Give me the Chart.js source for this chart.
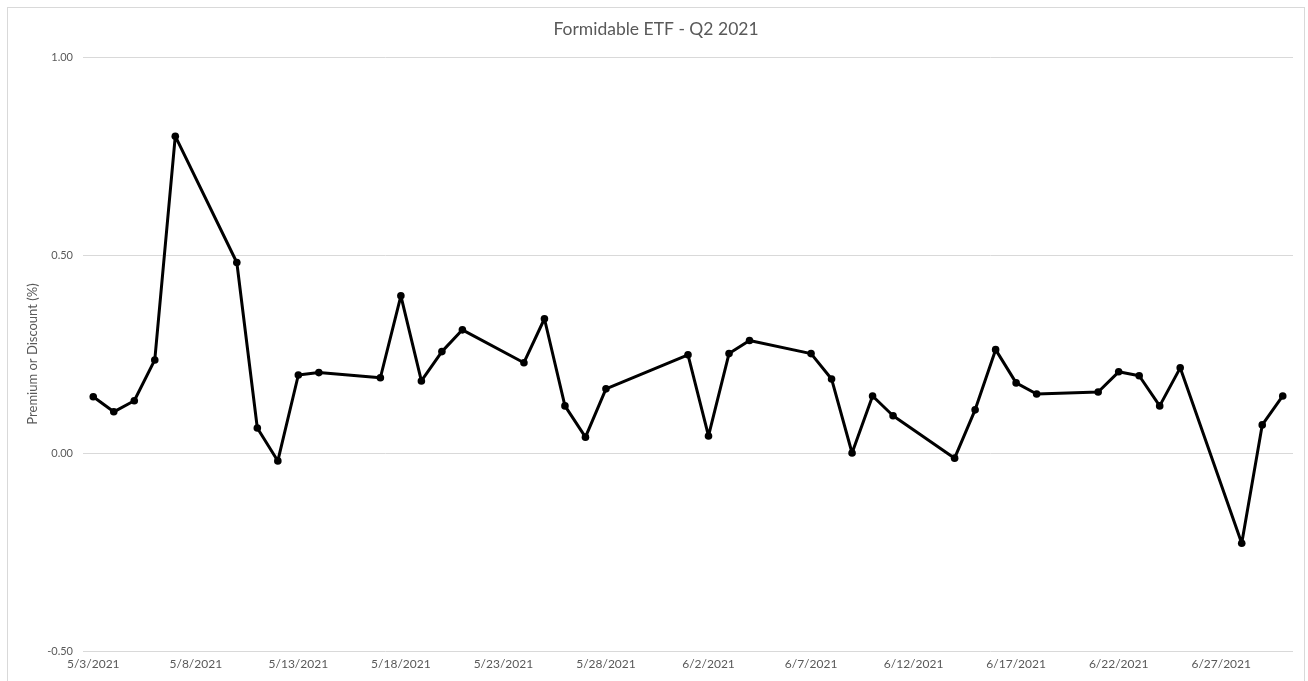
<!DOCTYPE html>
<html>
<head>
<meta charset="utf-8">
<script src="https://cdn.jsdelivr.net/npm/chart.js@4.4.1/dist/chart.umd.min.js"></script>
<style>
    html, body { margin: 0; padding: 0; background: #fff; overflow: hidden; }
    #frame { position: absolute; left: 7px; top: 7px; width: 1298px; height: 700px; border: 1px solid #d9d9d9; box-sizing: border-box; }
    #wrap { position: absolute; left: 0; top: 0; width: 1308px; height: 681px; }
</style>
</head>
<body>
<div id="frame"></div>
<div id="wrap"><canvas id="etfChart" width="1308" height="681"></canvas></div>
<script>
// trading days of Q2 2021 (from 5/3) and premium / discount in %
const dates = [
    '5/3/2021', '5/4/2021', '5/5/2021', '5/6/2021', '5/7/2021',
    '5/10/2021', '5/11/2021', '5/12/2021', '5/13/2021', '5/14/2021',
    '5/17/2021', '5/18/2021', '5/19/2021', '5/20/2021', '5/21/2021',
    '5/24/2021', '5/25/2021', '5/26/2021', '5/27/2021', '5/28/2021',
    '6/1/2021', '6/2/2021', '6/3/2021', '6/4/2021',
    '6/7/2021', '6/8/2021', '6/9/2021', '6/10/2021', '6/11/2021',
    '6/14/2021', '6/15/2021', '6/16/2021', '6/17/2021', '6/18/2021',
    '6/21/2021', '6/22/2021', '6/23/2021', '6/24/2021', '6/25/2021',
    '6/28/2021', '6/29/2021', '6/30/2021'
];
const premium = [
    0.142, 0.104, 0.132, 0.235, 0.800,
    0.481, 0.063, -0.020, 0.197, 0.203,
    0.190, 0.397, 0.182, 0.256, 0.311,
    0.228, 0.339, 0.119, 0.040, 0.162,
    0.248, 0.043, 0.251, 0.284,
    0.251, 0.187, 0.000, 0.144, 0.094,
    -0.013, 0.109, 0.261, 0.177, 0.149,
    0.154, 0.205, 0.195, 0.119, 0.215,
    -0.228, 0.071, 0.144
];
const xTickDays = [0, 5, 10, 15, 20, 25, 30, 35, 40, 45, 50, 55];
const yTicks = [-0.5, 0, 0.5, 1];

const DAY = 86400000;
const toUtc = s => { const [m, d, y] = s.split('/').map(Number); return Date.UTC(y, m - 1, d); };
const start = toUtc(dates[0]);
const dayOf = s => Math.round((toUtc(s) - start) / DAY);
const fmtDay = v => { const d = new Date(start + v * DAY); return `${d.getUTCMonth() + 1}/${d.getUTCDate()}/${d.getUTCFullYear()}`; };

const textColor = '#595959';
const gridColor = '#d9d9d9';
Chart.defaults.font.family = 'Lato, "Open Sans", sans-serif';

const ctx = document.getElementById('etfChart');
new Chart(ctx, {
    type: 'line',
    data: {
        datasets: [{
            label: 'Premium or Discount (%)',
            data: dates.map((d, i) => ({ x: dayOf(d), y: premium[i] })),
            borderColor: '#000', backgroundColor: '#000',
            borderWidth: 3, borderJoinStyle: 'round', borderCapStyle: 'round',
            pointRadius: 3.8, pointHoverRadius: 3.8, pointBorderWidth: 0,
            tension: 0
        }]
    },
    options: {
        responsive: false, animation: false,
        layout: { padding: { left: 19, right: 15, top: 0, bottom: 0 } },
        plugins: {
            legend: { display: false },
            tooltip: { enabled: false },
            title: {
                display: true, text: 'Formidable ETF - Q2 2021', color: textColor,
                font: { size: 17.5, weight: 'normal' }, padding: { top: 19, bottom: 17 }
            }
        },
        scales: {
            x: {
                type: 'linear', min: dayOf(dates[0]) - 0.5, max: dayOf(dates[dates.length - 1]) + 0.5,
                afterBuildTicks: s => { s.ticks = xTickDays.map(v => ({ value: v })); },
                afterFit: s => { s.height = 30; },
                grid: { display: false, drawTicks: false },
                border: { display: false },
                ticks: { color: textColor, font: { size: 12 }, padding: 6, maxRotation: 0, autoSkip: false, callback: v => fmtDay(v) }
            },
            y: {
                min: -0.5, max: 1,
                afterBuildTicks: s => { s.ticks = yTicks.map(v => ({ value: v })); },
                afterFit: s => { s.width = 64; },
                grid: { color: gridColor, lineWidth: 1, drawTicks: false },
                border: { display: false },
                ticks: { color: textColor, font: { size: 11 }, padding: 10, callback: v => v.toFixed(2) },
                title: { display: true, text: 'Premium or Discount (%)', color: textColor, font: { size: 13 }, padding: { top: 6, bottom: 0 } }
            }
        }
    }
});
</script>
</body>
</html>
